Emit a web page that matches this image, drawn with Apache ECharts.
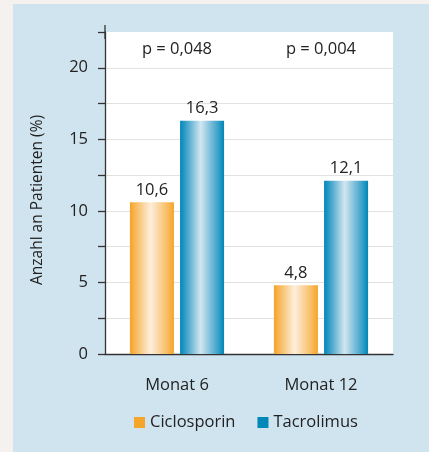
<!DOCTYPE html>
<html>
<head>
<meta charset="utf-8">
<style>
  html, body { margin: 0; padding: 0; background: #f5f1ef; }
  #chart { width: 429px; height: 452px; }
</style>
<script src="https://cdn.jsdelivr.net/npm/echarts@6/dist/echarts.min.js"></script>
</head>
<body>
<div id="chart"></div>
<script>
// Study data
const categories = ['Monat 6', 'Monat 12'];
const pValues = ['p = 0,048', 'p = 0,004'];
const ciclosporin = [10.6, 4.8];
const tacrolimus = [16.3, 12.1];
const yTicks = [0, 5, 10, 15, 20];

const FONT = 'Open Sans';
const TEXT = '#222222';
const ORANGE = '#f5a52a';
const BLUE = '#0088b8';
const FS = 16.5;

function barGradient(edge, light, mid) {
  return new echarts.graphic.LinearGradient(0, 0, 1, 0, [
    { offset: 0, color: edge },
    { offset: 0.14, color: mid },
    { offset: 0.47, color: light },
    { offset: 0.86, color: mid },
    { offset: 1, color: edge }
  ]);
}

const fmtComma = p => String(p.value).replace('.', ',');

const chart = echarts.init(document.getElementById('chart'), null, { renderer: 'canvas' });
chart.setOption({
  backgroundColor: 'transparent',
  textStyle: { fontFamily: FONT, color: TEXT },
  graphic: [{
    type: 'rect', left: 13, top: 4, z: -10,
    shape: { width: 416, height: 448 },
    style: { fill: '#d0e4ef' }
  }],
  grid: {
    left: 105, right: 36, top: 32, bottom: 98,
    show: true, backgroundColor: '#ffffff', borderWidth: 0
  },
  legend: {
    bottom: 16, left: 129,
    itemWidth: 11, itemHeight: 11, itemGap: 22,
    icon: 'rect',
    textStyle: { fontFamily: FONT, fontSize: FS, color: TEXT },
    data: [
      { name: 'Ciclosporin', itemStyle: { color: ORANGE } },
      { name: 'Tacrolimus', itemStyle: { color: BLUE } }
    ]
  },
  xAxis: [{
    type: 'category',
    data: categories,
    axisLine: { lineStyle: { color: '#333', width: 1.3 } },
    axisTick: { length: 7, lineStyle: { color: '#333', width: 1.3 } },
    axisLabel: { margin: 23, fontFamily: FONT, fontSize: FS, color: TEXT }
  }, {
    type: 'category',
    position: 'top',
    data: pValues,
    axisLine: { show: false },
    axisTick: { show: false },
    axisLabel: { inside: true, margin: 9, fontFamily: FONT, fontSize: FS, color: TEXT }
  }],
  yAxis: {
    type: 'value',
    min: 0, max: 22.5, interval: 2.5,
    name: 'Anzahl an Patienten (%)',
    nameLocation: 'middle',
    nameGap: 59,
    nameTextStyle: { fontFamily: FONT, fontSize: 15.5, color: TEXT, padding: [0, 0, 0, -14] },
    axisLine: {
      show: true,
      lineStyle: { color: '#333', width: 1.3 },
      symbol: ['none', 'rect'], symbolSize: [1.3, 14]
    },
    axisTick: { show: true, length: 7, lineStyle: { color: '#333', width: 1.3 } },
    axisLabel: {
      margin: 17, fontFamily: FONT, fontSize: FS, color: TEXT,
      formatter: v => (yTicks.includes(v) ? String(v) : '')
    },
    splitLine: {
      lineStyle: {
        color: ['#e2e2e2', '#e2e2e2', '#e2e2e2', '#e2e2e2', '#e2e2e2',
                '#e2e2e2', '#e2e2e2', '#e2e2e2', '#e2e2e2', '#ffffff'],
        width: 1
      }
    }
  },
  series: [{
    name: 'Ciclosporin',
    type: 'bar',
    data: ciclosporin,
    barWidth: 44,
    barGap: '14%',
    itemStyle: { color: barGradient('#f5a326', '#fdeedd', '#f8bb5e') },
    label: { show: true, position: 'top', distance: 4, fontFamily: FONT, fontSize: FS, color: TEXT, formatter: fmtComma }
  }, {
    name: 'Tacrolimus',
    type: 'bar',
    data: tacrolimus,
    barWidth: 44,
    itemStyle: { color: barGradient('#0087b7', '#d3e6f1', '#3ba1c9') },
    label: { show: true, position: 'top', distance: 4, fontFamily: FONT, fontSize: FS, color: TEXT, formatter: fmtComma }
  }]
});
</script>
</body>
</html>
